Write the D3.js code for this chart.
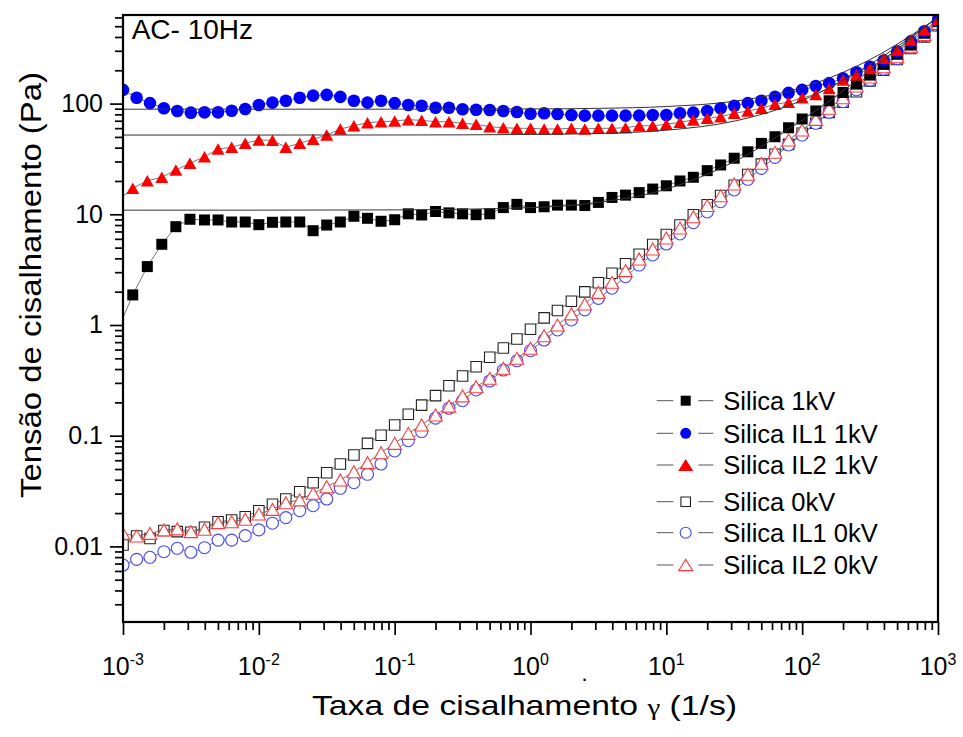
<!DOCTYPE html>
<html>
<head>
<meta charset="utf-8">
<script src="https://cdn.jsdelivr.net/npm/d3@7"></script>
<style>
  body { margin: 0; background: #fff; }
  text { font-family: "Liberation Sans", Arial, sans-serif; fill: #000; }
</style>
</head>
<body>
<svg id="chart" width="963" height="737"></svg>
<script>
// shear rates (1/s), 10 points per decade
const rates = [0.001, 0.00126, 0.00158, 0.002, 0.00251, 0.00316, 0.00398, 0.00501, 0.00631, 0.00794,
  0.01, 0.0126, 0.0158, 0.02, 0.0251, 0.0316, 0.0398, 0.0501, 0.0631, 0.0794,
  0.1, 0.126, 0.158, 0.2, 0.251, 0.316, 0.398, 0.501, 0.631, 0.794,
  1, 1.26, 1.58, 2, 2.51, 3.16, 3.98, 5.01, 6.31, 7.94,
  10, 12.6, 15.8, 20, 25.1, 31.6, 39.8, 50.1, 63.1, 79.4,
  100, 126, 158, 200, 251, 316, 398, 501, 631, 794, 1000];

// the 1kV runs start a little off the grid (first point is left of the axis)
const rates1kV = [0.00087, 0.00118, 0.00151, 0.00193, 0.00245, 0.00311, 0.00398, 0.00501, 0.00631, 0.00794,
  0.01, 0.0126, 0.0158, 0.02, 0.0251, 0.0316, 0.0398, 0.0501, 0.0631, 0.0794,
  0.1, 0.126, 0.158, 0.2, 0.251, 0.316, 0.398, 0.501, 0.631, 0.794,
  1, 1.26, 1.58, 2, 2.51, 3.16, 3.98, 5.01, 6.31, 7.94,
  10, 12.6, 15.8, 20, 25.1, 31.6, 39.8, 50.1, 63.1, 79.4,
  100, 126, 158, 200, 251, 316, 398, 501, 631, 794, 1000];

const silica1kV = [0.78, 1.87, 3.37, 5.36, 7.73, 9.02, 8.89, 8.89, 8.52, 8.52,
  8.06, 8.47, 8.52, 8.52, 7.11, 8.0, 8.52, 9.6, 9.2, 8.65,
  8.93, 10.1, 9.86, 10.6, 10.3, 10.1, 9.92, 10.1, 11.5, 12.3,
  11.5, 11.7, 12.1, 12.1, 12.0, 12.8, 14.2, 14.9, 15.7, 16.9,
  18.1, 20.0, 21.6, 24.8, 27.9, 32.1, 36.7, 43.7, 50.2, 60.5,
  72.6, 85.8, 106, 126, 150, 181, 226, 279, 338, 432, 550];

const silicaIL1_1kV = [133, 113, 101, 90.8, 85.8, 82.8, 83.4, 83.4, 86.3, 89.4,
  97.1, 102, 106, 113, 118, 120, 115, 106, 102, 106,
  101, 97, 95.7, 91.8, 91.8, 88.9, 88.1, 87.5, 85.8, 84,
  81, 81.7, 80.5, 78.9, 77.8, 77.8, 77.8, 77.8, 77.8, 78.9,
  78.9, 81.7, 82.8, 85.8, 90.8, 95.7, 101, 106, 115, 125,
  133, 144, 153, 169, 192, 215, 245, 295, 365, 450, 560];

const silicaIL2_1kV = [12.6, 17.2, 20.1, 21.6, 25.1, 28.9, 33.1, 38.9, 40.3, 43.8,
  46.9, 46.6, 40.3, 43.8, 47.6, 52.0, 59.0, 63.1, 67.2, 68.6,
  69.6, 71.6, 70.6, 68.6, 68.6, 66.4, 65.0, 61.8, 60.6, 59.8,
  59.8, 59.0, 59.0, 59.8, 59.0, 59.8, 59.8, 60.6, 63.1, 63.1,
  65.0, 67.8, 71.1, 73.6, 76.2, 81.7, 85.8, 90.8, 98.6, 103,
  113, 121, 137, 163, 181, 208, 257, 305, 376, 463, 569];

const silica0kV = [0.0103, 0.0124, 0.0118, 0.0139, 0.0136, 0.0134, 0.0149, 0.0167, 0.0173, 0.0185,
  0.0210, 0.0240, 0.0268, 0.0312, 0.0376, 0.0463, 0.0555, 0.0669, 0.0853, 0.101,
  0.125, 0.156, 0.189, 0.230, 0.283, 0.346, 0.420, 0.511, 0.619, 0.748,
  0.914, 1.16, 1.35, 1.64, 1.99, 2.41, 2.93, 3.57, 4.36, 5.34,
  6.57, 8.0, 9.9, 12.2, 14.8, 18.3, 22.9, 28.4, 34.9, 42.8,
  53.9, 66.4, 83.4, 103, 128, 160, 200, 250, 315, 400, 505];

const silicaIL1_0kV = [0.00679, 0.00764, 0.00797, 0.00895, 0.00961, 0.00885, 0.00973, 0.0114, 0.0114, 0.0125,
  0.0141, 0.0162, 0.0182, 0.0210, 0.0233, 0.0268, 0.0335, 0.0376, 0.0448, 0.0555,
  0.0728, 0.0901, 0.109, 0.144, 0.177, 0.207, 0.259, 0.312, 0.392, 0.475,
  0.586, 0.732, 0.902, 1.11, 1.37, 1.74, 2.15, 2.73, 3.48, 4.29,
  5.39, 6.64, 8.40, 10.5, 13.0, 16.6, 20.7, 26.0, 32.7, 42.3,
  52.0, 66.4, 83.4, 104, 133, 163, 205, 255, 320, 410, 520];

const silicaIL2_0kV = [0.0131, 0.0124, 0.0131, 0.0141, 0.0144, 0.0136, 0.0143, 0.0164, 0.0167, 0.0176,
  0.0196, 0.0216, 0.0248, 0.0263, 0.0302, 0.0346, 0.0398, 0.0473, 0.0571, 0.0702,
  0.0853, 0.105, 0.125, 0.154, 0.185, 0.229, 0.277, 0.330, 0.407, 0.500,
  0.617, 0.80, 1.0, 1.26, 1.55, 1.97, 2.43, 3.10, 3.95, 4.86,
  6.11, 7.52, 9.51, 12.0, 14.7, 18.8, 23.0, 28.9, 36.3, 46.9,
  57.8, 72.1, 90.7, 113, 144, 174, 215, 265, 330, 420, 530];

// fitted flow curves
const fitRates = [0.001, 0.01, 0.1, 1, 3.16, 10, 31.6, 100, 316, 1000];
const fitSilica1kV = [10.9, 10.9, 10.96, 11.5, 12.8, 16.9, 29.9, 70.9, 200, 611];
const fitIL1_1kV = [89, 89, 89.05, 89.5, 90.6, 94.1, 105, 140, 250, 599];
const fitIL2_1kV = [52, 52, 52.06, 52.6, 53.7, 57.5, 69.4, 107, 226, 602];

const yTickValues = [0.01, 0.1, 1, 10, 100];
const yTickLabels = ["0.01", "0.1", "1", "10", "100"];
const xTickValues = [0.001, 0.01, 0.1, 1, 10, 100, 1000];
const xTickExps = ["-3", "-2", "-1", "0", "1", "2", "3"];

const legendNames = ["Silica 1kV", "Silica IL1 1kV", "Silica IL2 1kV", "Silica 0kV", "Silica IL1 0kV", "Silica IL2 0kV"];

const config = {
  width: 963, height: 737,
  plot: { left: 123, right: 938, top: 15, bottom: 622 },
  yDomain: [0.002075, 631.5]
};

const styles = {
  "Silica 1kV":     { shape: "square",   fill: "#000",   stroke: "none",    w: 11, h: 11, lw: 10 },
  "Silica IL1 1kV": { shape: "circle",   fill: "#0000ff", stroke: "none",   w: 12.6, h: 12.6, lw: 11 },
  "Silica IL2 1kV": { shape: "triangle", fill: "#ff0000", stroke: "none",   w: 13, h: 11.5, lw: 15 },
  "Silica 0kV":     { shape: "square",   fill: "#fff",   stroke: "#222",    w: 10.5, h: 10.5, lw: 9.5 },
  "Silica IL1 0kV": { shape: "circle",   fill: "#fff",   stroke: "#4646ff", w: 12, h: 12, lw: 11 },
  "Silica IL2 0kV": { shape: "triangle", fill: "#fff",   stroke: "#ff3c3c", w: 13.5, h: 12, lw: 14 }
};

const svg = d3.select("#chart");
const x = d3.scaleLog().domain([1e-3, 1e3]).range([config.plot.left, config.plot.right]);
const y = d3.scaleLog().domain(config.yDomain).range([config.plot.bottom, config.plot.top]);

function markerPath(shape, w, h) {
  if (shape === "square") return `M${-w/2},${-h/2}h${w}v${h}h${-w}Z`;
  if (shape === "triangle") return `M0,${-h/2}L${w/2},${h/2}L${-w/2},${h/2}Z`;
  const r = w / 2;
  return `M${-r},0a${r},${r} 0 1,0 ${2*r},0a${r},${r} 0 1,0 ${-2*r},0Z`;
}

function drawAxes() {
  const p = config.plot;
  const majorX = xTickValues;
  const minorX = x.ticks().filter(v => !majorX.some(m => Math.abs(v / m - 1) < 1e-6));
  const minorY = y.ticks().filter(v => !yTickValues.some(m => Math.abs(v / m - 1) < 1e-6));

  const gx = svg.append("g").attr("transform", `translate(0,${p.bottom})`);
  gx.append("g").call(d3.axisBottom(x).tickValues(minorX).tickSize(8).tickFormat(""));
  gx.append("g").call(d3.axisBottom(x).tickValues(majorX).tickSize(13).tickFormat(""));

  const gy = svg.append("g").attr("transform", `translate(${p.left},0)`);
  gy.append("g").call(d3.axisLeft(y).tickValues(minorY).tickSize(8).tickFormat(""));
  gy.append("g").call(d3.axisLeft(y).tickValues(yTickValues).tickSize(13).tickPadding(7)
      .tickFormat((d, i) => yTickLabels[i]));

  svg.selectAll(".domain").remove();
  svg.selectAll(".tick line").attr("stroke", "#000").attr("stroke-width", 1.7);
  gy.selectAll(".tick text").style("font-size", "25px").style("font-family", "Liberation Sans, Arial, sans-serif");

  // x tick labels: 10 with superscript exponent
  const xl = svg.append("g").selectAll("text").data(majorX).enter().append("text")
    .attr("x", d => x(d)).attr("y", 675).attr("text-anchor", "middle").style("font-size", "25px");
  xl.append("tspan").text("10");
  xl.append("tspan").attr("dy", -10).style("font-size", "16px").text((d, i) => xTickExps[i]);

  // frame
  svg.append("rect").attr("x", p.left).attr("y", p.top)
    .attr("width", p.right - p.left).attr("height", p.bottom - p.top)
    .attr("fill", "none").attr("stroke", "#000").attr("stroke-width", 2.2);
}

function drawData() {
  const p = config.plot;
  svg.append("clipPath").attr("id", "plot-clip").append("rect")
    .attr("x", p.left).attr("y", p.top).attr("width", p.right - p.left).attr("height", p.bottom - p.top);
  const g = svg.append("g").attr("clip-path", "url(#plot-clip)");

  const series = [
    { name: "Silica 0kV", xs: rates, ys: silica0kV },
    { name: "Silica IL1 0kV", xs: rates, ys: silicaIL1_0kV },
    { name: "Silica IL2 0kV", xs: rates, ys: silicaIL2_0kV },
    { name: "Silica 1kV", xs: rates1kV, ys: silica1kV },
    { name: "Silica IL1 1kV", xs: rates, ys: silicaIL1_1kV },
    { name: "Silica IL2 1kV", xs: rates1kV, ys: silicaIL2_1kV }
  ];

  const line = d3.line().x(d => x(d[0])).y(d => y(d[1]));

  series.forEach(s => {
    const st = styles[s.name];
    const pts = s.xs.map((v, i) => [v, s.ys[i]]);
    g.append("path").attr("d", line(pts)).attr("fill", "none")
      .attr("stroke", "#555").attr("stroke-width", 0.8);
    g.append("g").selectAll("path").data(pts).enter().append("path")
      .attr("transform", d => `translate(${x(d[0])},${y(d[1])})`)
      .attr("d", markerPath(st.shape, st.w, st.h))
      .attr("fill", st.fill).attr("stroke", st.stroke).attr("stroke-width", st.stroke === "none" ? 0 : 1.1);
  });

  const fitLine = d3.line().x(d => x(d[0])).y(d => y(d[1])).curve(d3.curveMonotoneX);
  [fitSilica1kV, fitIL1_1kV, fitIL2_1kV].forEach(f => {
    g.append("path").attr("d", fitLine(fitRates.map((v, i) => [v, f[i]])))
      .attr("fill", "none").attr("stroke", "#333").attr("stroke-width", 1);
  });
}

function drawLegend() {
  const rowY = [400.7, 433.3, 465, 501.7, 532.7, 565];
  const lg = svg.append("g");
  legendNames.forEach((name, i) => {
    const st = styles[name];
    const cy = rowY[i];
    lg.append("line").attr("x1", 656.7).attr("x2", 673.3).attr("y1", cy).attr("y2", cy)
      .attr("stroke", "#555").attr("stroke-width", 1);
    lg.append("line").attr("x1", 698.3).attr("x2", 713.3).attr("y1", cy).attr("y2", cy)
      .attr("stroke", "#555").attr("stroke-width", 1);
    const lh = st.shape === "triangle" ? st.lw * 0.8 : st.lw;
    lg.append("path").attr("transform", `translate(685.7,${cy})`)
      .attr("d", markerPath(st.shape, st.lw, lh))
      .attr("fill", st.fill).attr("stroke", st.stroke).attr("stroke-width", st.stroke === "none" ? 0 : 1.1);
    lg.append("text").attr("x", 723.3).attr("y", cy + 9.3).style("font-size", "25.5px").text(name);
  });
}

function drawTitles() {
  svg.append("text").attr("x", 131.7).attr("y", 39).style("font-size", "28px").text("AC- 10Hz");

  const xt = svg.append("text").attr("x", 524.5).attr("y", 715).attr("text-anchor", "middle")
    .style("font-size", "28px").attr("textLength", 425).attr("lengthAdjust", "spacingAndGlyphs");
  xt.append("tspan").text("Taxa de cisalhamento ");
  xt.append("tspan").style("font-family", "Liberation Serif, Times New Roman, serif").style("font-size", "24px").text("\u03b3");
  xt.append("tspan").text(" (1/s)");

  svg.append("text").attr("transform", "translate(41,285) rotate(-90)").attr("text-anchor", "middle")
    .style("font-size", "29px").attr("textLength", 426).attr("lengthAdjust", "spacingAndGlyphs")
    .text("Tensão de cisalhamento (Pa)");

  // stray dot in the original export
  svg.append("text").attr("x", 581.5).attr("y", 681).style("font-size", "22px").text(".");
}

drawData();
drawAxes();
drawLegend();
drawTitles();
</script>
</body>
</html>
